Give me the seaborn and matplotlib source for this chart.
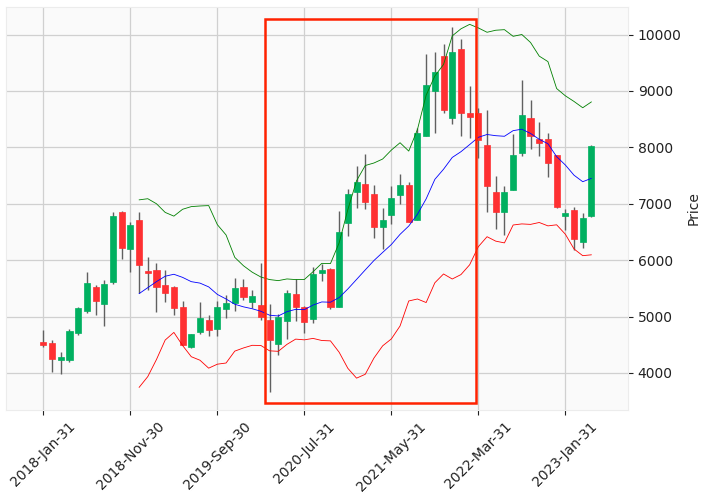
import numpy as np
import pandas as pd
import matplotlib
matplotlib.use('Agg')
import matplotlib.pyplot as plt
import seaborn as sns
from matplotlib.patches import Rectangle

# Monthly OHLC values (Jan 2018 .. Apr 2023)
dates = pd.date_range('2018-01-31', periods=64, freq='ME')

opens = [4555, 4537, 4227, 4227, 4703, 5102, 5524, 5227, 5620, 6845,
         6191, 6703, 5816, 5828, 5560, 5524, 5167, 4459, 4727, 4947,
         4781, 5138, 5245, 5524, 5263, 5203, 4935, 4519, 4923, 5399,
         5161, 4959, 5770, 5847, 5177, 6652, 7203, 7357, 7180, 6581,
         6795, 7150, 7340, 6717, 8199, 8999, 9615, 8525, 9751, 8614,
         8614, 8045, 7209, 6848, 7245, 7897, 8513, 8140, 8140, 7873,
         6777, 6889, 6315, 6777]
closes = [4495, 4245, 4275, 4739, 5155, 5596, 5280, 5572, 6774, 6209,
          6625, 5905, 5768, 5530, 5423, 5155, 4495, 4685, 4971, 4769,
          5167, 5239, 5507, 5352, 5364, 4995, 4584, 4989, 5417, 5173,
          4906, 5750, 5829, 5177, 6504, 7180, 7387, 7026, 6581, 6711,
          7103, 7334, 6676, 8258, 9099, 9330, 8661, 9686, 8608, 8543,
          8128, 7310, 6848, 7209, 7873, 8566, 8199, 8080, 7719, 6934,
          6836, 6368, 6747, 8027]
highs = [4763, 4590, 4370, 4787, 5167, 5792, 5554, 5649, 6857, 6875,
         6679, 6857, 6054, 5947, 5828, 5540, 5269, 4697, 5251, 5025,
         5274, 5376, 5679, 5661, 5471, 5947, 5215, 5036, 5465, 5661,
         5180, 5887, 5930, 5859, 6866, 7263, 7677, 7885, 7334, 6919,
         7310, 7529, 7381, 8335, 9650, 9686, 9828, 10142, 9929, 9088,
         8702, 8661, 7500, 7316, 8228, 9200, 8833, 8453, 8258, 7873,
         6913, 6937, 6836, 8045]
lows = [4459, 4013, 3983, 4186, 4680, 5054, 5031, 4828, 5572, 6018,
        5786, 5417, 5471, 5072, 5251, 5031, 4490, 4447, 4697, 4662,
        4662, 4971, 5090, 5292, 5150, 4947, 3668, 4311, 4596, 4929,
        4715, 4894, 5633, 5130, 5170, 6427, 6919, 6908, 6394, 6197,
        6647, 6998, 6670, 6717, 8199, 8258, 8614, 8418, 8205, 8157,
        7820, 6854, 6552, 6451, 7245, 7843, 7962, 7849, 7476, 6930,
        6528, 6184, 6214, 6765]

# Bollinger settings used by the chart (12-period, 2 std)
BB_WINDOW = 12
BB_K = 2

UP_COLOR = '#00b060'
DOWN_COLOR = '#fe3032'
WICK_COLOR = '#606060'

sns.set_style('whitegrid', {
    'axes.facecolor': '#fafafa',
    'grid.color': '#d0d0d0',
    'axes.edgecolor': '#ececec',
})
plt.rcParams['font.family'] = ['DejaVu Sans']

df = pd.DataFrame({'Open': opens, 'High': highs, 'Low': lows, 'Close': closes}, index=dates)
df['idx'] = np.arange(len(df))
df['mid'] = df['Close'].rolling(BB_WINDOW).mean()
sd = df['Close'].rolling(BB_WINDOW).std(ddof=0)
df['upper'] = df['mid'] + BB_K * sd
df['lower'] = df['mid'] - BB_K * sd

fig = plt.figure(figsize=(7.04, 4.95), dpi=100)
ax = fig.add_axes([0.0085, 0.172, 0.8835, 0.814])

# Candles
is_up = df['Close'] >= df['Open']
colors = np.where(is_up, UP_COLOR, DOWN_COLOR)
ax.vlines(df['idx'], df['Low'], df['High'], color=WICK_COLOR, lw=1.0, zorder=2)
ax.bar(df['idx'], (df['Close'] - df['Open']).abs(), bottom=np.minimum(df['Open'], df['Close']),
       width=0.7, color=colors, edgecolor=colors, lw=0.5, zorder=3)

# Bollinger bands
sns.lineplot(x=df['idx'], y=df['upper'], ax=ax, color='green', lw=0.6, zorder=4)
sns.lineplot(x=df['idx'], y=df['mid'], ax=ax, color='blue', lw=0.6, zorder=4)
sns.lineplot(x=df['idx'], y=df['lower'], ax=ax, color='red', lw=0.6, zorder=4)

# Highlight box
ax.add_patch(Rectangle((25.5, 3473), 24.2, 10272 - 3473, fill=False,
                       edgecolor='#ff2200', lw=1.8, zorder=5))

ax.set_xlim(-4.3, 67.2)
ax.set_ylim(3345, 10490)

tick_pos = df['idx'].values[::10]
ax.set_xticks(tick_pos)
ax.set_xticklabels([d.strftime('%Y-%b-%d') for d in df.index[::10]], rotation=45, fontsize=10)
ax.set_yticks([4000, 5000, 6000, 7000, 8000, 9000, 10000])
ax.yaxis.tick_right()
ax.yaxis.set_label_position('right')
ax.set_ylabel('Price', fontsize=10)
ax.set_xlabel('')
ax.tick_params(axis='both', which='both', length=3.5, width=0.8, color='#222222',
               labelsize=10, labelcolor='#222222', bottom=True, right=True, left=False)
ax.grid(True, color='#d0d0d0', lw=0.9, ls='-')
ax.set_axisbelow(True)

fig.savefig('out.png', dpi=100)
